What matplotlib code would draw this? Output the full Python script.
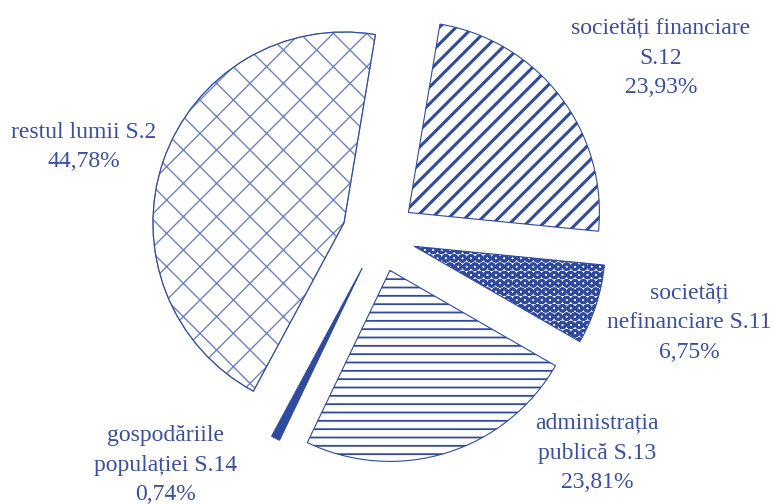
import matplotlib
matplotlib.use('Agg')
import matplotlib.pyplot as plt
from matplotlib.patches import Wedge

# data
sectors = ['societăți financiare\nS.12', 'societăți\nnefinanciare S.11',
           'administrația\npublică S.13', 'gospodăriile\npopulației S.14',
           'restul lumii S.2']
shares = [23.93, 6.75, 23.81, 0.74, 44.78]
share_txt = ['23,93%', '6,75%', '23,81%', '0,74%', '44,78%']

blue = '#2f4a9e'
txt_blue = '#3a4ea2'
light = '#6f82c4'

plt.rcParams['font.family'] = ['Liberation Serif', 'DejaVu Serif']
plt.rcParams['hatch.linewidth'] = 1.5

fig = plt.figure(figsize=(7.74, 5.04), dpi=100)
ax = fig.add_axes([0, 0, 1, 1])

wedges, _ = ax.pie(shares, startangle=80.5, counterclock=False,
                   explode=[0.194] * 5, radius=1,
                   wedgeprops=dict(facecolor='white', edgecolor=blue, linewidth=0.8))

hatches = ['//', 'OO', '--', '', 'x']
hlw = [2.2, 2.0, 1.3, 1.0, 1.0]
for w, h, lw in zip(wedges, hatches, hlw):
    w.set_hatch(h)
    if hasattr(w, 'set_hatch_linewidth'):
        w.set_hatch_linewidth(lw)

# solid slice
wedges[3].set_facecolor(blue)

# light brick-like hatch for the big slice, dark outline on top
wedges[4].set_edgecolor(light)
w = wedges[4]
ax.add_patch(Wedge(w.center, w.r, w.theta1, w.theta2, fill=False,
                   edgecolor=blue, linewidth=0.8))

# labels (placed by hand like in the original)
pos = [(661, 58), (689, 323), (597, 453), (166, 465), (84, 147)]
for name, pct, (px, py) in zip(sectors, share_txt, pos):
    fig.text(px / 774, 1 - py / 504, name + '\n' + pct, ha='center', va='center',
             fontsize=17, color=txt_blue, linespacing=1.55)

ax.set_xlim(-379 / 191, 395 / 191)
ax.set_ylim(-269 / 191, 235 / 191)
ax.set_aspect('equal')
ax.axis('off')

fig.savefig('out.png', dpi=100)
